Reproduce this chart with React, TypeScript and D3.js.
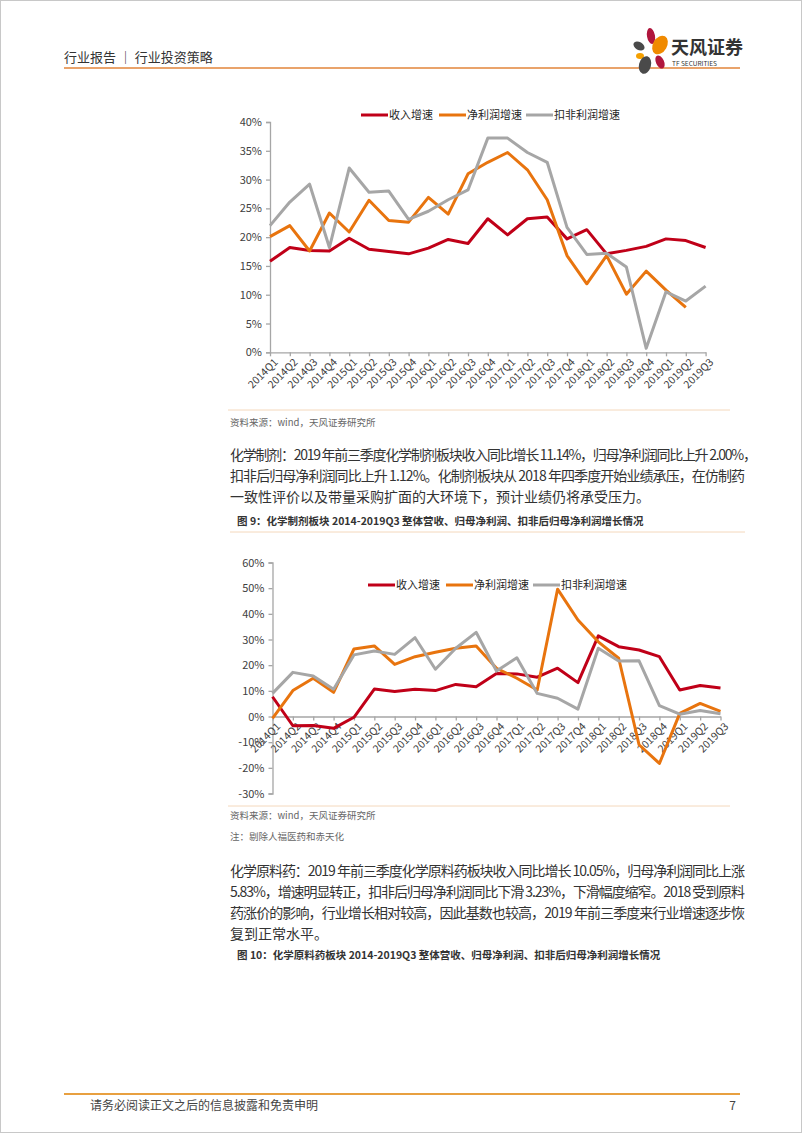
import { useRef, useEffect } from 'react';
import * as d3 from 'd3';

const quarters = [
  '2014Q1', '2014Q2', '2014Q3', '2014Q4',
  '2015Q1', '2015Q2', '2015Q3', '2015Q4',
  '2016Q1', '2016Q2', '2016Q3', '2016Q4',
  '2017Q1', '2017Q2', '2017Q3', '2017Q4',
  '2018Q1', '2018Q2', '2018Q3', '2018Q4',
  '2019Q1', '2019Q2', '2019Q3',
];

const seriesNames = ['收入增速', '净利润增速', '扣非利润增速'];
const seriesColors = ['#c00018', '#e8740e', '#a6a6a6'];

// chart 1 (top)
const topRevenue = [15.8, 18.2, 17.7, 17.6, 19.8, 17.9, 17.5, 17.1, 18.1, 19.6, 18.9, 23.2, 20.4, 23.2, 23.5, 19.7, 21.3, 17.1, 17.7, 18.4, 19.7, 19.4, 18.2];
const topNetProfit = [20.1, 22.0, 17.6, 24.2, 20.9, 26.4, 22.9, 22.6, 26.9, 24.0, 31.0, 33.0, 34.7, 31.7, 26.5, 16.8, 11.9, 16.8, 10.1, 14.1, 10.8, 7.8, null];
const topDeducted = [22.0, 26.1, 29.2, 18.2, 32.0, 27.8, 28.0, 23.1, 24.5, 26.5, 28.2, 37.2, 37.2, 34.7, 33.0, 21.7, 17.0, 17.2, 14.8, 0.7, 10.5, 8.9, 11.5];
const topTicks = [0, 5, 10, 15, 20, 25, 30, 35, 40];

// chart 2 (化学制剂)
const midRevenue = [7.7, -3.6, -3.5, -4.6, -0.3, 10.7, 9.7, 10.6, 10.1, 12.5, 11.6, 16.8, 16.6, 15.3, 18.8, 13.2, 31.4, 27.2, 25.9, 23.3, 10.3, 12.1, 11.1];
const midNetProfit = [-0.7, 10.1, 14.9, 9.4, 26.3, 27.5, 20.3, 23.3, 25.0, 26.6, 27.5, 18.8, 14.9, 10.3, 49.6, 37.6, 29.1, 22.7, -11.0, -18.3, 1.2, 5.1, 2.0];
const midDeducted = [9.0, 17.2, 15.8, 10.6, 24.0, 25.5, 24.2, 30.7, 18.4, 26.6, 32.8, 17.7, 22.9, 9.0, 7.1, 2.9, 26.6, 21.6, 21.7, 4.2, 0.9, 2.3, 1.1];
const midTicks = [-30, -20, -10, 0, 10, 20, 30, 40, 50, 60];

const para1 = [
  '化学制剂：2019 年前三季度化学制剂板块收入同比增长 11.14%，归母净利润同比上升 2.00%，',
  '扣非后归母净利润同比上升 1.12%。化制剂板块从 2018 年四季度开始业绩承压，在仿制药',
  '一致性评价以及带量采购扩面的大环境下，预计业绩仍将承受压力。',
];
const para2 = [
  '化学原料药：2019 年前三季度化学原料药板块收入同比增长 10.05%，归母净利润同比上涨',
  '5.83%，增速明显转正，扣非后归母净利润同比下滑 3.23%，下滑幅度缩窄。2018 受到原料',
  '药涨价的影响，行业增长相对较高，因此基数也较高，2019 年前三季度来行业增速逐步恢',
  '复到正常水平。',
];

const FONT = '"Noto Sans CJK SC", "Noto Sans", sans-serif';

function drawChart(svg, cfg) {
  const { series, ticks, xRange, yRange, domain, legendX, legendY } = cfg;
  const x = d3.scalePoint().domain(quarters).range(xRange);
  const y = d3.scaleLinear().domain(domain).range(yRange);
  const g = svg.append('g');
  const axisY = y(Math.max(0, domain[0]));

  // y axis
  const yAxis = g
    .append('g')
    .attr('transform', `translate(${xRange[0]},0)`)
    .call(d3.axisLeft(y).tickValues(ticks).tickSize(4).tickSizeOuter(4).tickPadding(4).tickFormat((d) => `${d}%`));
  yAxis.selectAll('path,line').attr('stroke', '#a6a6a6').attr('stroke-width', 1.3);
  yAxis.selectAll('text').attr('fill', '#404040').style('font-family', FONT).style('font-size', '11px');

  // x axis
  const xAxis = g
    .append('g')
    .attr('transform', `translate(0,${axisY})`)
    .call(d3.axisBottom(x).tickSize(4).tickSizeOuter(0).tickFormat(() => ''));
  xAxis.selectAll('path,line').attr('stroke', '#a6a6a6').attr('stroke-width', 1.3);

  g.append('g')
    .selectAll('text')
    .data(quarters)
    .join('text')
    .attr('transform', (d) => `translate(${x(d) + 3},${axisY + 5}) rotate(-45)`)
    .attr('text-anchor', 'end')
    .attr('dy', '0.75em')
    .attr('fill', '#404040')
    .style('font-family', FONT)
    .style('font-size', '10.5px')
    .text((d) => d);

  const line = d3
    .line()
    .defined((d) => d != null)
    .x((_, i) => x(quarters[i]))
    .y((d) => y(d));

  series.forEach((vals, k) => {
    g.append('path')
      .datum(vals)
      .attr('d', line)
      .attr('fill', 'none')
      .attr('stroke', seriesColors[k])
      .attr('stroke-width', 3)
      .attr('stroke-linejoin', 'round');
  });

  // legend
  const legend = g.append('g').attr('transform', `translate(${legendX},${legendY})`);
  const offsets = [0, 78, 165];
  seriesNames.forEach((name, k) => {
    legend
      .append('line')
      .attr('x1', offsets[k])
      .attr('x2', offsets[k] + 27)
      .attr('stroke', seriesColors[k])
      .attr('stroke-width', 3);
    legend
      .append('text')
      .attr('x', offsets[k] + 28)
      .attr('dy', '0.35em')
      .attr('fill', '#262626')
      .style('font-family', FONT)
      .style('font-size', '11px')
      .text(name);
  });
}

function Paragraph({ lines, y0, lh, widths }) {
  return (
    <g>
      {lines.map((t, i) => (
        <text
          key={i}
          x={230}
          y={y0 + i * lh}
          dy="0.35em"
          fill="#333"
          fontSize={14}
          fontFamily={FONT}
          {...(widths[i] ? { textLength: widths[i], lengthAdjust: 'spacing' } : {})}
        >
          {t}
        </text>
      ))}
    </g>
  );
}

function Logo() {
  return (
    <g>
      <ellipse cx={651} cy={36} rx={4} ry={8} fill="#b0163d" transform="rotate(-10 651 36)" />
      <ellipse cx={660} cy={45} rx={7} ry={10} fill="#f08a00" transform="rotate(30 660 45)" />
      <ellipse cx={639} cy={46} rx={6} ry={4} fill="#4a4a4a" transform="rotate(30 639 46)" />
      <ellipse cx={640} cy={56} rx={4} ry={3} fill="#f5a000" />
      <ellipse cx={645} cy={65} rx={6} ry={9} fill="#4a4a4a" transform="rotate(15 645 65)" />
      <ellipse cx={660} cy={62} rx={4} ry={7} fill="#b0163d" transform="rotate(-25 660 62)" />
      <text x={671} y={54} fontSize={18} fontWeight="bold" fill="#333" fontFamily={FONT}>天风证券</text>
      <text x={672} y={66} fontSize={6.5} fill="#333" fontFamily={FONT}>TF SECURITIES</text>
    </g>
  );
}

export default function App() {
  const ref = useRef(null);

  useEffect(() => {
    const svg = d3.select(ref.current).select('g.charts');
    svg.selectAll('*').remove();
    drawChart(svg, {
      series: [topRevenue, topNetProfit, topDeducted],
      ticks: topTicks,
      xRange: [270, 705.6],
      yRange: [352.3, 122],
      domain: [0, 40],
      legendX: 361,
      legendY: 115,
    });
    drawChart(svg, {
      series: [midRevenue, midNetProfit, midDeducted],
      ticks: midTicks,
      xRange: [272.5, 720.5],
      yRange: [793.5, 562.5],
      domain: [-30, 60],
      legendX: 368,
      legendY: 585,
    });
  }, []);

  return (
    <svg ref={ref} width={802} height={1133} style={{ position: 'absolute', left: 0, top: 0, background: '#fff' }}>
      <rect x={0.5} y={0.5} width={801} height={1132} fill="#fff" stroke="#c8c8c8" />
      {/* header */}
      <text x={64} y={57} dy="0.35em" fontSize={13} fill="#333" fontFamily={FONT}>行业报告 ｜ 行业投资策略</text>
      <line x1={64} x2={740} y1={68} y2={68} stroke="#e2843a" strokeWidth={1.5} />
      <Logo />

      <g className="charts" />

      {/* chart 1 footer */}
      <line x1={228} x2={730} y1={410} y2={410} stroke="#f4d8bc" strokeWidth={1} />
      <text x={230} y={423} dy="0.35em" fontSize={9.5} fill="#666" fontFamily={FONT}>资料来源：wind，天风证券研究所</text>

      <Paragraph lines={para1} y0={455} lh={21} widths={[527, 515, 0]} />

      <text x={237} y={521} dy="0.35em" fontSize={10.5} fontWeight="bold" fill="#333" fontFamily={FONT}>
        图 9：化学制剂板块 2014-2019Q3 整体营收、归母净利润、扣非后归母净利润增长情况
      </text>
      <line x1={230} x2={745} y1={532} y2={532} stroke="#f4d8bc" strokeWidth={1} />

      {/* chart 2 footer */}
      <line x1={228} x2={730} y1={806} y2={806} stroke="#f4d8bc" strokeWidth={1} />
      <text x={230} y={816} dy="0.35em" fontSize={9.5} fill="#666" fontFamily={FONT}>资料来源：wind，天风证券研究所</text>
      <text x={230} y={837} dy="0.35em" fontSize={9.5} fill="#666" fontFamily={FONT}>注：剔除人福医药和赤天化</text>

      <Paragraph lines={para2} y0={871} lh={21} widths={[515, 515, 515, 0]} />

      <text x={237} y={955} dy="0.35em" fontSize={10.5} fontWeight="bold" fill="#333" fontFamily={FONT}>
        图 10：化学原料药板块 2014-2019Q3 整体营收、归母净利润、扣非后归母净利润增长情况
      </text>

      {/* page footer */}
      <line x1={64} x2={740} y1={1094} y2={1094} stroke="#e8a040" strokeWidth={2} />
      <text x={90} y={1106} dy="0.35em" fontSize={12} fill="#444" fontFamily={FONT}>请务必阅读正文之后的信息披露和免责申明</text>
      <text x={736} y={1106} dy="0.35em" fontSize={12} fill="#444" fontFamily={FONT} textAnchor="end">7</text>
    </svg>
  );
}
